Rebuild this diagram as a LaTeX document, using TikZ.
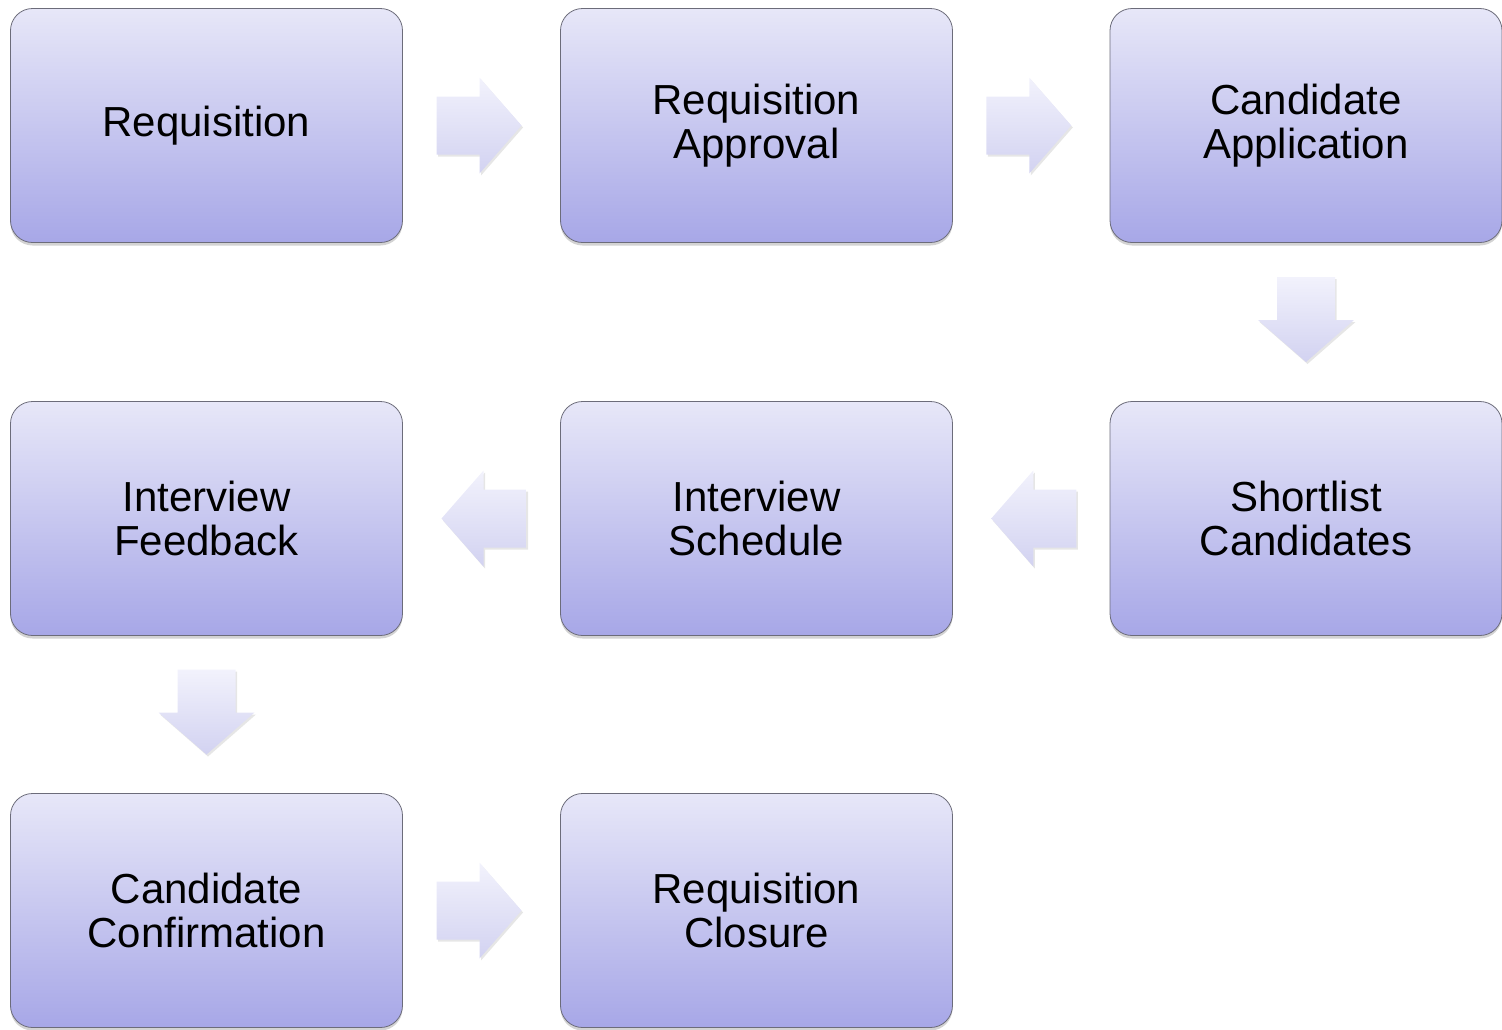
\documentclass[tikz,border=0pt]{standalone}
\usepackage{fontspec}
\setmainfont{Liberation Sans}
\usepackage{tikz}
\usetikzlibrary{shadows,calc}
\definecolor{boxtop}{RGB}{231,231,248}
\definecolor{boxbot}{RGB}{167,167,231}
\definecolor{boxline}{RGB}{108,108,122}
\definecolor{arrtop}{RGB}{242,242,252}
\definecolor{arrbot}{RGB}{210,210,241}
\tikzset{
 b/.style
  = {rectangle, draw=boxline, thick, top color=boxtop, bottom color=boxbot,
     rounded corners=22pt, minimum width=392pt, minimum height=234pt,
     align=center, font=\fontsize{42}{44}\selectfont,
     drop shadow={shadow xshift=0pt, shadow yshift=-3pt, opacity=.35}},
 ar/.style
  = {top color=arrtop, bottom color=arrbot,
     drop shadow={shadow xshift=1.5pt, shadow yshift=-2pt, opacity=.2}},
 blk/.pic
  = {\shade[ar] (-45,-29) -- (-2,-29) -- (-2,-48) -- (40,0) -- (-2,48)
       -- (-2,29) -- (-45,29) -- cycle;},
}

\begin{document}
\begin{tikzpicture}[x=1pt,y=-1pt]

\useasboundingbox (0,0) rectangle (1502,1029);

% Boxes
\node[b] (req) at (206.5,125.5) {Requisition};
\node[b] (appr) at (756.5,125.5) {Requisition\\Approval};
\node[b] (appl) at (1306,125.5) {Candidate\\Application};
\node[b] (short) at (1306,518.5) {Shortlist\\Candidates};
\node[b] (sched) at (756.5,518.5) {Interview\\Schedule};
\node[b] (feed) at (206.5,518.5) {Interview\\Feedback};
\node[b] (conf) at (206.5,910.5) {Candidate\\Confirmation};
\node[b] (clos) at (756.5,910.5) {Requisition\\Closure};

% Arrows
\pic at ($(req.east)!.5!(appr.west)$) {blk};
\pic at ($(appr.east)!.5!(appl.west)$) {blk};
\pic[rotate=-90] at ($(appl.south)!.5!(short.north)$) {blk};
\pic[rotate=180] at ($(short.west)!.5!(sched.east)$) {blk};
\pic[rotate=180] at ($(sched.west)!.5!(feed.east)$) {blk};
\pic[rotate=-90] at ($(feed.south)!.5!(conf.north)$) {blk};
\pic at ($(conf.east)!.5!(clos.west)$) {blk};

\end{tikzpicture}
\end{document}
